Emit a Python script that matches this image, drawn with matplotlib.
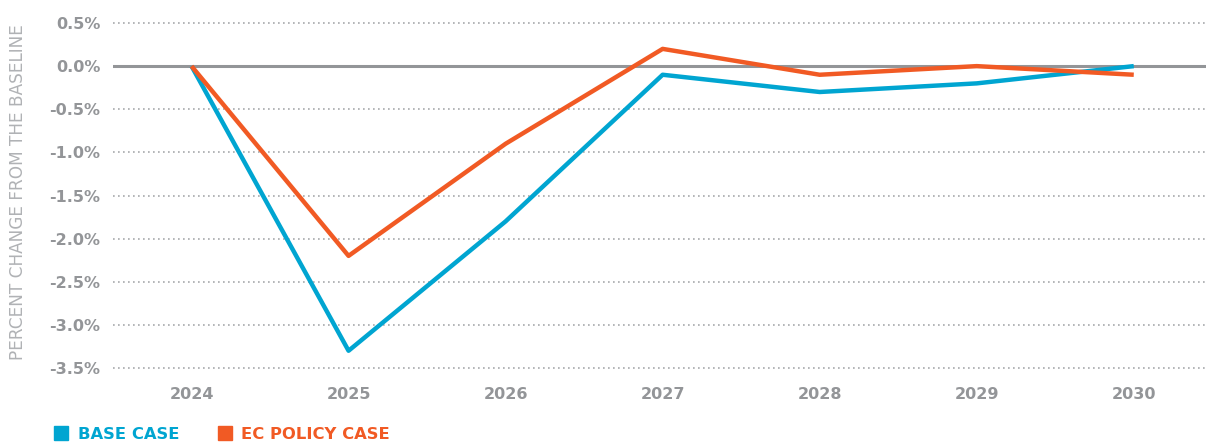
import matplotlib
matplotlib.use("Agg")
import matplotlib.pyplot as plt
from matplotlib.lines import Line2D

years = [2024, 2025, 2026, 2027, 2028, 2029, 2030]
base_case = [0.0, -3.3, -1.8, -0.1, -0.3, -0.2, 0.0]
ec_policy_case = [0.0, -2.2, -0.9, 0.2, -0.1, 0.0, -0.1]
y_ticks = [0.5, 0.0, -0.5, -1.0, -1.5, -2.0, -2.5, -3.0, -3.5]

blue = "#00a5d1"
orange = "#f15a24"
gray = "#939598"

plt.rcParams['font.family'] = ['DejaVu Sans']

fig = plt.figure(figsize=(12.06, 4.43), dpi=100)
ax = fig.add_axes([113 / 1206, 75 / 443, 1093 / 1206, 345 / 443])

# grid lines
for yv in y_ticks:
    if yv == 0:
        ax.axhline(yv, color=gray, lw=2.2, zorder=1)
    else:
        ax.axhline(yv, color="#a7a9ac", lw=1.2, ls=(0, (1, 2.0)), zorder=1, clip_on=False)

ax.plot(years, base_case, color=blue, lw=3.2, zorder=3, solid_capstyle='butt')
ax.plot(years, ec_policy_case, color=orange, lw=3.2, zorder=3, solid_capstyle='butt')

ax.set_xlim(2023.5, 2030.46)
ax.set_ylim(-3.5, 0.5)
ax.set_xticks(years)
ax.set_xticklabels([str(y) for y in years])
ax.set_yticks(y_ticks)
ax.set_yticklabels(["%.1f%%" % v for v in y_ticks])
ax.tick_params(length=0, labelsize=11.5, labelcolor=gray, pad=9)
ax.tick_params(axis='x', pad=14)
for lab in ax.get_xticklabels() + ax.get_yticklabels():
    lab.set_fontweight('bold')
for s in ax.spines.values():
    s.set_visible(False)

fig.text(18 / 1206, 0.5 + 29 / 443, "PERCENT CHANGE FROM THE BASELINE", rotation=90,
         color="#b0b2b5", fontsize=12.2, ha='center', va='center')

handles = [Line2D([], [], color=blue, marker='s', ls='none', markersize=10),
           Line2D([], [], color=orange, marker='s', ls='none', markersize=10)]
leg = fig.legend(handles, ["BASE CASE", "EC POLICY CASE"], loc='lower left',
                 bbox_to_anchor=(40 / 1206, -0.03), ncol=2, frameon=False,
                 handlelength=0.8, handletextpad=0.6, columnspacing=2.4,
                 prop={'weight': 'bold', 'size': 11.8})
for t, c in zip(leg.get_texts(), [blue, orange]):
    t.set_color(c)

fig.savefig("out.png", dpi=100)
